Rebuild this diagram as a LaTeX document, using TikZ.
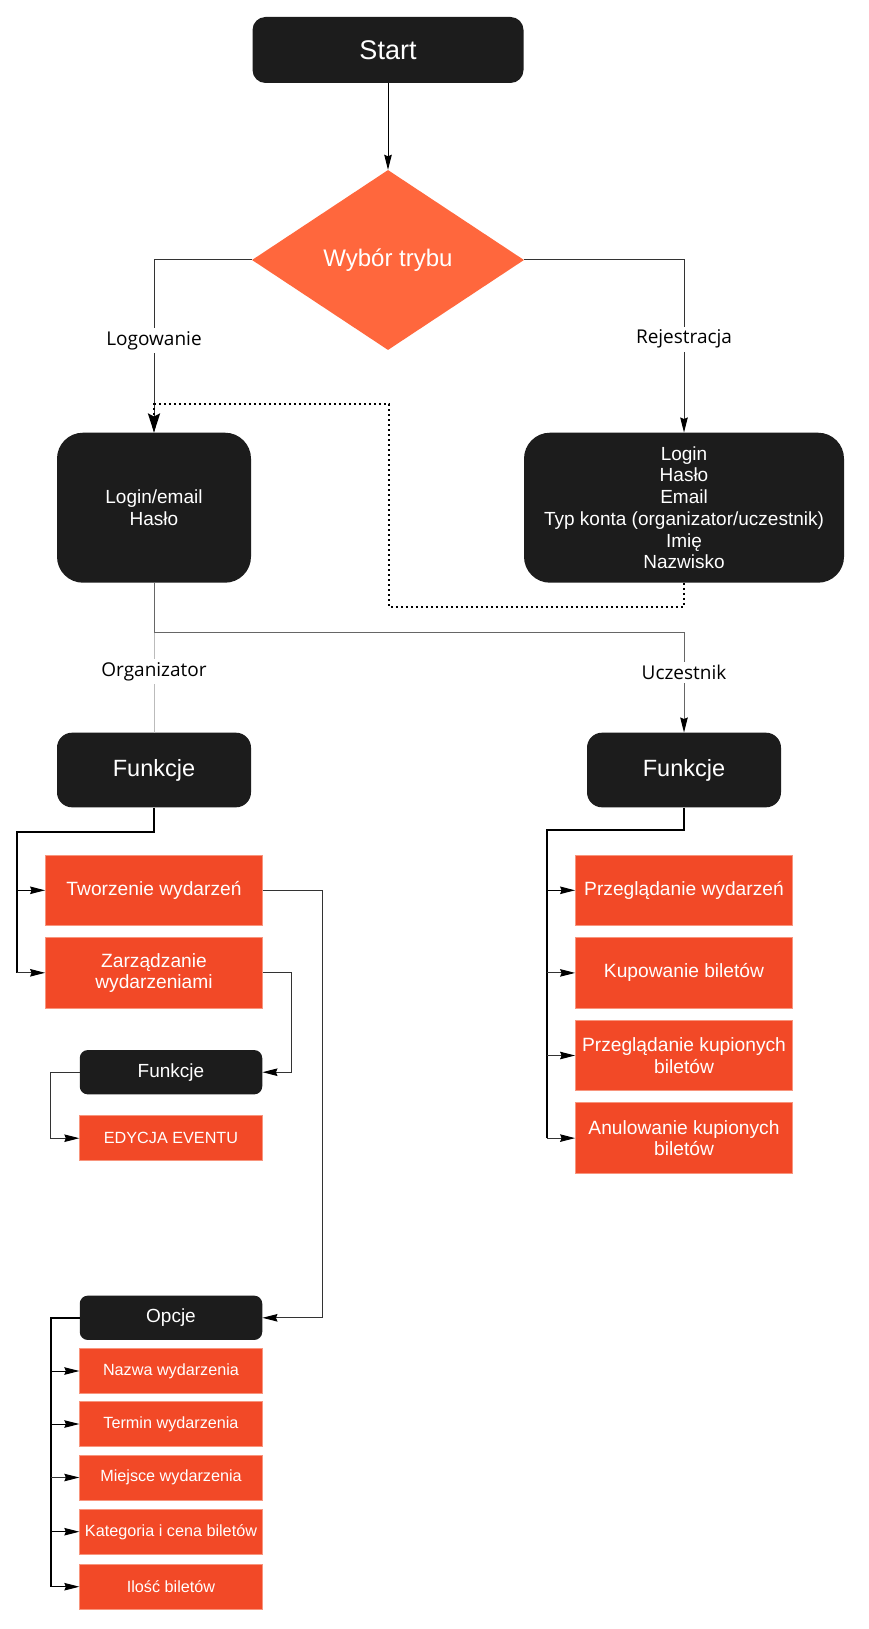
\documentclass[tikz,border=0pt]{standalone}
\usepackage{fontspec}
\setmainfont{Liberation Sans}
\newfontfamily\lblfont{Open Sans}
\usetikzlibrary{shapes.geometric,arrows.meta}
\definecolor{boxblack}{HTML}{1C1C1C}
\definecolor{diaor}{HTML}{FF673D}
\definecolor{boxor}{HTML}{F24927}
\definecolor{boxorline}{HTML}{F8957D}
\definecolor{lnA}{HTML}{333333}
\definecolor{lnB}{HTML}{666666}
\definecolor{lnC}{HTML}{BBBBBB}
\begin{document}
\begin{tikzpicture}[x=1pt,y=-1pt,
  blk/.style={fill=boxblack, text=white, inner sep=0pt, align=center},
  orb/.style={fill=boxor, draw=boxorline, line width=0.8pt, text=white, inner sep=0pt, align=center},
  bigor/.style={orb, minimum width=217pt, minimum height=70.5pt, font=\fontsize{19.2}{21.5}\selectfont},
  smor/.style={orb, minimum width=182.5pt, minimum height=45pt, font=\fontsize{16.2}{19}\selectfont},
  ln/.style={line width=1pt},
  thk/.style={line width=1.9pt, draw=black},
  arr/.style={-{Stealth[length=15pt,width=7.5pt,inset=1.5pt,color=black]}},
  bigarr/.style={-{Stealth[length=19pt,width=12pt,inset=3pt,color=black]}},
  dotline/.style={line width=2.3pt, dash pattern=on 2pt off 3pt, draw=black},
  lbl/.style={fill=white, text=black, inner sep=3pt, font=\lblfont\fontsize{19}{23}\selectfont}
]
\useasboundingbox (0,0) rectangle (868,1629);
\fill[white] (0,0) rectangle (868,1629);

% nodes
\node[blk, rounded corners=13pt, minimum width=271pt, minimum height=66pt, font=\fontsize{27}{32}\selectfont] (start) at (388,50) {Start};
\node[diamond, fill=diaor, minimum width=272pt, minimum height=180pt, inner sep=0pt, text=white, font=\fontsize{24}{29}\selectfont] (dia) at (388,260) {Wybór trybu};

\node[blk, rounded corners=26pt, minimum width=194pt, minimum height=150pt, font=\fontsize{19}{21.7}\selectfont] (login) at (154,507.7) {Login/email\\Hasło};
\node[blk, rounded corners=26pt, minimum width=320pt, minimum height=150pt, font=\fontsize{19}{21.7}\selectfont] (reg) at (684,507.7) {Login\\Hasło\\Email\\Typ konta (organizator/uczestnik)\\Imię\\Nazwisko};

\node[blk, rounded corners=15pt, minimum width=194pt, minimum height=74.6pt, font=\fontsize{23.5}{28}\selectfont] (funkL) at (154,770) {Funkcje};
\node[blk, rounded corners=15pt, minimum width=194pt, minimum height=74.6pt, font=\fontsize{23.5}{28}\selectfont] (funkR) at (684,770) {Funkcje};

\node[bigor] (tworz) at (154,890.3) {Tworzenie wydarzeń};
\node[bigor] (zarz) at (154,972.8) {Zarządzanie\\wydarzeniami};

\node[bigor] (r1) at (684,890.3) {Przeglądanie wydarzeń};
\node[bigor] (r2) at (684,972.9) {Kupowanie biletów};
\node[bigor] (r3) at (684,1055.5) {Przeglądanie kupionych\\biletów};
\node[bigor] (r4) at (684,1138.1) {Anulowanie kupionych\\biletów};

\node[blk, rounded corners=8pt, minimum width=182.5pt, minimum height=44.3pt, font=\fontsize{19}{23}\selectfont] (funkS) at (171,1072.2) {Funkcje};
\node[smor] (edyc) at (171,1138.2) {EDYCJA EVENTU};

\node[blk, rounded corners=8pt, minimum width=182.5pt, minimum height=44.3pt, font=\fontsize{19}{23}\selectfont] (opcje) at (171,1317.8) {Opcje};
\node[smor] (o1) at (171,1371) {Nazwa wydarzenia};
\node[smor] (o2) at (171,1424) {Termin wydarzenia};
\node[smor] (o3) at (171,1477.5) {Miejsce wydarzenia};
\node[smor] (o4) at (171,1531.7) {Kategoria i cena biletów};
\node[smor] (o5) at (171,1586.7) {Ilość biletów};

% coordinates
\coordinate (d1) at (684,606.7);
\coordinate (d2) at (388.9,404);
\coordinate (sp) at (154,632.7);
\coordinate (fl) at (16.7,831.7);
\coordinate (fr) at (546.7,830);
\coordinate (t1) at (322.7,890.3);
\coordinate (z1) at (291.5,972.8);
\coordinate (s1) at (50.7,1072.2);
\coordinate (p1) at (50.7,1317.8);

% connectors
\draw[ln, black, arr] (start.south) -- (dia.north);
\draw[ln, lnA, arr] (dia.west) -| (login.north);
\draw[ln, lnA, arr] (dia.east) -| (reg.north);
\draw[dotline, bigarr] (reg.south) -- (d1) -| (d2) -| (login.north);

\draw[ln, lnB] (login.south) -- (sp);
\draw[ln, lnB, arr] (sp) -| (funkR.north);
\draw[ln, lnC] (sp) -- (funkL.north);

% left tree
\draw[thk] (funkL.south) |- (fl) -- (fl |- zarz.west);
\draw[ln, black, arr] (fl |- tworz.west) -- (tworz.west);
\draw[ln, lnA, arr] (fl |- zarz.west) -- (zarz.west);

% right tree
\draw[thk] (funkR.south) |- (fr) -- (fr |- r4.west);
\draw[ln, black, arr] (fr |- r1.west) -- (r1.west);
\draw[ln, lnA, arr] (fr |- r2.west) -- (r2.west);
\draw[ln, lnA, arr] (fr |- r3.west) -- (r3.west);
\draw[ln, lnA, arr] (fr |- r4.west) -- (r4.west);

\draw[ln, lnA, arr] (tworz.east) -- (t1) |- (opcje.east);
\draw[ln, lnA, arr] (zarz.east) -- (z1) |- (funkS.east);
\draw[ln, lnA, arr] (funkS.west) -- (s1) |- (edyc.west);

% options tree
\draw[thk] (opcje.west) -- (p1) -- (p1 |- o5.west);
\draw[ln, black, arr] (p1 |- o1.west) -- (o1.west);
\draw[ln, black, arr] (p1 |- o2.west) -- (o2.west);
\draw[ln, lnA, arr] (p1 |- o3.west) -- (o3.west);
\draw[ln, black, arr] (p1 |- o4.west) -- (o4.west);
\draw[ln, black, arr] (p1 |- o5.west) -- (o5.west);

% labels
\node[lbl] (lLog) at (154,340.7) {Logowanie};
\node[lbl] (lRej) at (684,339.3) {Rejestracja};
\node[lbl] (lOrg) at (154,671.7) {Organizator};
\node[lbl] (lUcz) at (684,672.7) {Uczestnik};
\end{tikzpicture}
\end{document}
